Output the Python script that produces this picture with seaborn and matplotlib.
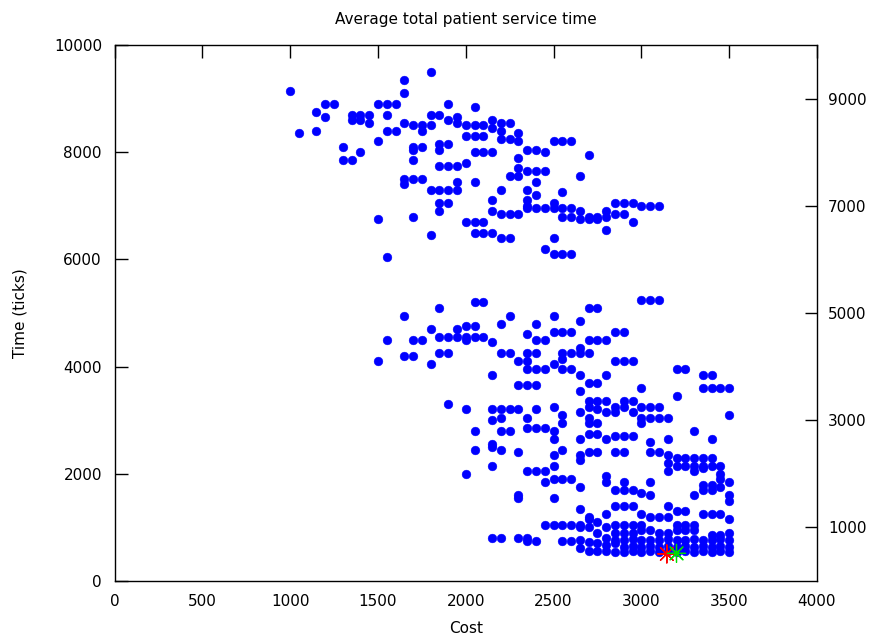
import matplotlib
matplotlib.use("Agg")
import matplotlib.pyplot as plt
import seaborn as sns
import pandas as pd

# ---- data: upper cluster (cost columns and the times read at each) ----
upper_cost = [1000, 1050, 1150, 1200, 1250, 1300, 1350, 1400, 1450, 1500, 1550,
              1600, 1650, 1700, 1750, 1800, 1850, 1900, 1950, 2000, 2050, 2100,
              2150, 2200, 2250, 2300, 2350, 2400, 2450, 2500, 2550, 2600, 2650,
              2700, 2750, 2800, 2850, 2900, 2950, 3000, 3050, 3100]
upper_time = [
    [9150], [8350], [8750, 8400], [8900, 8650], [8900], [8100, 7850],
    [8700, 8600, 7850], [8700, 8600, 8000], [8700, 8550], [8900, 8200, 6750],
    [8900, 8700, 8400, 6050], [8900, 8400], [9350, 9100, 8550, 7500, 7400],
    [8500, 8100, 8050, 7850, 7500, 6800], [8500, 8400, 8100, 7500],
    [9500, 8700, 8500, 7300, 6450], [8700, 8150, 8050, 7750, 7300, 7050, 6900],
    [8900, 8600, 8150, 7750, 7300, 7050], [8650, 8550, 7750, 7450, 7300],
    [8500, 8300, 7800, 6700], [8850, 8500, 8300, 8000, 7450, 6700, 6500],
    [8500, 8300, 8000, 6700, 6500], [8600, 8450, 8000, 7100, 6900, 6500],
    [8550, 8400, 8250, 7300, 6850, 6400], [8550, 8250, 7550, 6850, 6400],
    [8350, 8200, 7900, 7700, 7550, 6850], [8050, 7650, 7300, 7100, 7000, 6950],
    [8050, 7650, 7450, 7200, 6950], [8000, 7650, 6950, 6200],
    [8200, 7050, 6950, 6400, 6100], [8200, 7250, 6950, 6800, 6100],
    [8200, 6950, 6800, 6100], [7550, 6900, 6750], [7950, 6800, 6750],
    [6800, 6750], [6900, 6800, 6550], [7050, 6850], [7050, 6850], [7050, 6700],
    [7000], [7000], [7000]]

# ---- data: lower cluster ----
lower_cost = [1500, 1550, 1650, 1700, 1750, 1800, 1850, 1900, 1950, 2000, 2050,
              2100, 2150, 2200, 2250, 2300, 2350, 2400, 2450, 2500, 2550, 2600,
              2650, 2700, 2750, 2800, 2850, 2900, 2950, 3000, 3050, 3100, 3150,
              3200, 3250, 3300, 3350, 3400, 3450, 3500]
lower_time = [
    [4100], [4500], [4950, 4200], [4500, 4200], [4500], [4700, 4050],
    [5100, 4550, 4250], [4550, 4250, 3300], [4700, 4550],
    [4750, 4550, 4500, 3200, 2000], [5200, 4750, 4550, 2800, 2450],
    [5200, 4550], [4450, 3850, 3200, 3000, 2550, 2500, 2150, 800],
    [4800, 4250, 3200, 3050, 2800, 2450, 800], [4950, 4250, 3200, 2800],
    [4100, 3650, 3200, 2400, 1600, 1550, 800],
    [4600, 4250, 4100, 3950, 3650, 3050, 2850, 2050, 800, 750],
    [4800, 4500, 4250, 3950, 3650, 3200, 2850, 2050, 750],
    [4500, 3950, 2850, 2050, 1850, 1050],
    [4950, 4650, 4050, 3250, 2800, 2650, 2350, 2150, 1900, 1550, 1050],
    [4650, 4250, 4150, 3950, 3100, 2950, 2450, 1900, 1050, 750],
    [4650, 4250, 3950, 1900, 1050, 750],
    [4850, 4350, 4250, 3850, 3550, 3150, 2650, 2350, 2250, 1750, 1350, 1050, 1000],
    [5100, 4500, 4250, 3700, 3350, 3250, 3050, 2950, 2750, 2400, 1200, 1150, 1000],
    [5100, 4500, 3700, 3350, 3200, 2950, 2750, 2400, 1100, 900],
    [4500, 3850, 3350, 3150, 2650, 1950, 1850, 1250, 1000, 800],
    [4650, 4100, 3250, 3150, 2700, 2400, 1700, 1400, 1050, 900],
    [4650, 4100, 3350, 3250, 2700, 2400, 1850, 1700, 1400, 1050, 900],
    [4100, 3350, 3150, 2700, 1700, 1400, 1050, 900],
    [5250, 3600, 3250, 3050, 2950, 1650, 1250, 1050, 950],
    [5250, 3250, 3050, 2600, 2400, 1850, 1600, 1200, 950],
    [5250, 3250, 3050, 2400, 1200, 900],
    [3050, 2650, 2350, 2200, 2050, 1400, 1200, 900],
    [3950, 3450, 2300, 2150, 1300, 1050, 950],
    [3950, 2300, 2150, 1300, 1050, 950],
    [2800, 2300, 2150, 2050, 1600, 1050, 950],
    [3850, 3600, 2300, 2150, 2100, 1800, 1700, 1250],
    [3850, 3600, 2650, 2300, 2150, 1800, 1700, 1250, 850],
    [3600, 2150, 2000, 1900, 1750, 1250, 850],
    [3600, 3100, 1850, 1600, 1500, 1150, 900]]

# ---- data: dense bottom band ----
band_cost = [2650, 2700, 2750, 2800, 2850, 2900, 2950, 3000, 3050, 3100, 3150,
             3200, 3250, 3300, 3350, 3400, 3450, 3500]
band_time = [
    [765, 620], [735, 560], [700, 560], [670, 560], [765, 700, 545],
    [765, 640, 545], [780, 650, 560], [770, 640, 550], [760, 650, 560],
    [770, 640, 545], [780, 650, 560], [770, 640, 550], [760, 650, 560],
    [780, 640, 545], [770, 650, 560], [760, 640, 550], [780, 650, 560],
    [770, 640, 545]]

# ---- data: highlighted optimum points ----
opt_cost = [3145, 3200]
opt_time = [505, 515]
opt_label = ["red", "green"]

title = "Average total patient service time"
x_label = "Cost"
y_label = "Time (ticks)"
x_ticks = [0, 500, 1000, 1500, 2000, 2500, 3000, 3500, 4000]
y_ticks = [0, 2000, 4000, 6000, 8000, 10000]
y2_ticks = [1000, 3000, 5000, 7000, 9000]

# ---- build table ----
rows = []
for cols, times in ((upper_cost, upper_time), (lower_cost, lower_time),
                    (band_cost, band_time)):
    for c, ts in zip(cols, times):
        for t in ts:
            rows.append((c, t))
df = pd.DataFrame(rows, columns=["cost", "time"])
opt_df = pd.DataFrame({"cost": opt_cost, "time": opt_time, "which": opt_label})

sns.set_theme(style="white")
plt.rcParams["font.family"] = ["DejaVu Sans"]
plt.rcParams["text.color"] = "black"
plt.rcParams["axes.labelcolor"] = "black"

fig = plt.figure(figsize=(8.77, 6.37), dpi=100)
ax = fig.add_axes([114.5 / 877, 1 - 581 / 637, (817 - 114.5) / 877, (581 - 45) / 637])

sns.scatterplot(data=df, x="cost", y="time", ax=ax, color="#0000ff", s=40,
                marker="o", edgecolor="#0000ff", linewidth=0.3, legend=False,
                zorder=3)
sns.scatterplot(data=opt_df, x="cost", y="time", hue="which", ax=ax,
                palette={"red": "#ff0000", "green": "#00dd00"},
                marker=(8, 2, 0), s=170, linewidth=0.9, legend=False, zorder=4)

ax.set_xlim(0, 4000)
ax.set_ylim(0, 10000)
ax.set_xticks(x_ticks)
ax.set_yticks(y_ticks)
ax.set_xticklabels([str(v) for v in x_ticks])
ax.set_yticklabels([str(v) for v in y_ticks])
ax.tick_params(axis="both", direction="in", length=9, width=1, color="black",
               labelsize=11, labelcolor="black", top=True, right=False, pad=9)
for sp in ax.spines.values():
    sp.set_color("black")
    sp.set_linewidth(1.0)

ax2 = ax.twinx()
ax2.set_ylim(0, 10000)
ax2.set_yticks(y2_ticks)
ax2.set_yticklabels([str(v) for v in y2_ticks])
ax2.tick_params(axis="y", direction="in", length=9, width=1, color="black",
                labelsize=11, labelcolor="black", pad=8)
for sp in ax2.spines.values():
    sp.set_visible(False)

ax.set_xlabel(x_label, fontsize=11, labelpad=9, color="black")
ax.set_ylabel(y_label, fontsize=11, labelpad=19, color="black")
ax.set_title(title, fontsize=11, pad=15, color="black")
ax.grid(False)

fig.savefig("out.png", dpi=100, facecolor="white")
